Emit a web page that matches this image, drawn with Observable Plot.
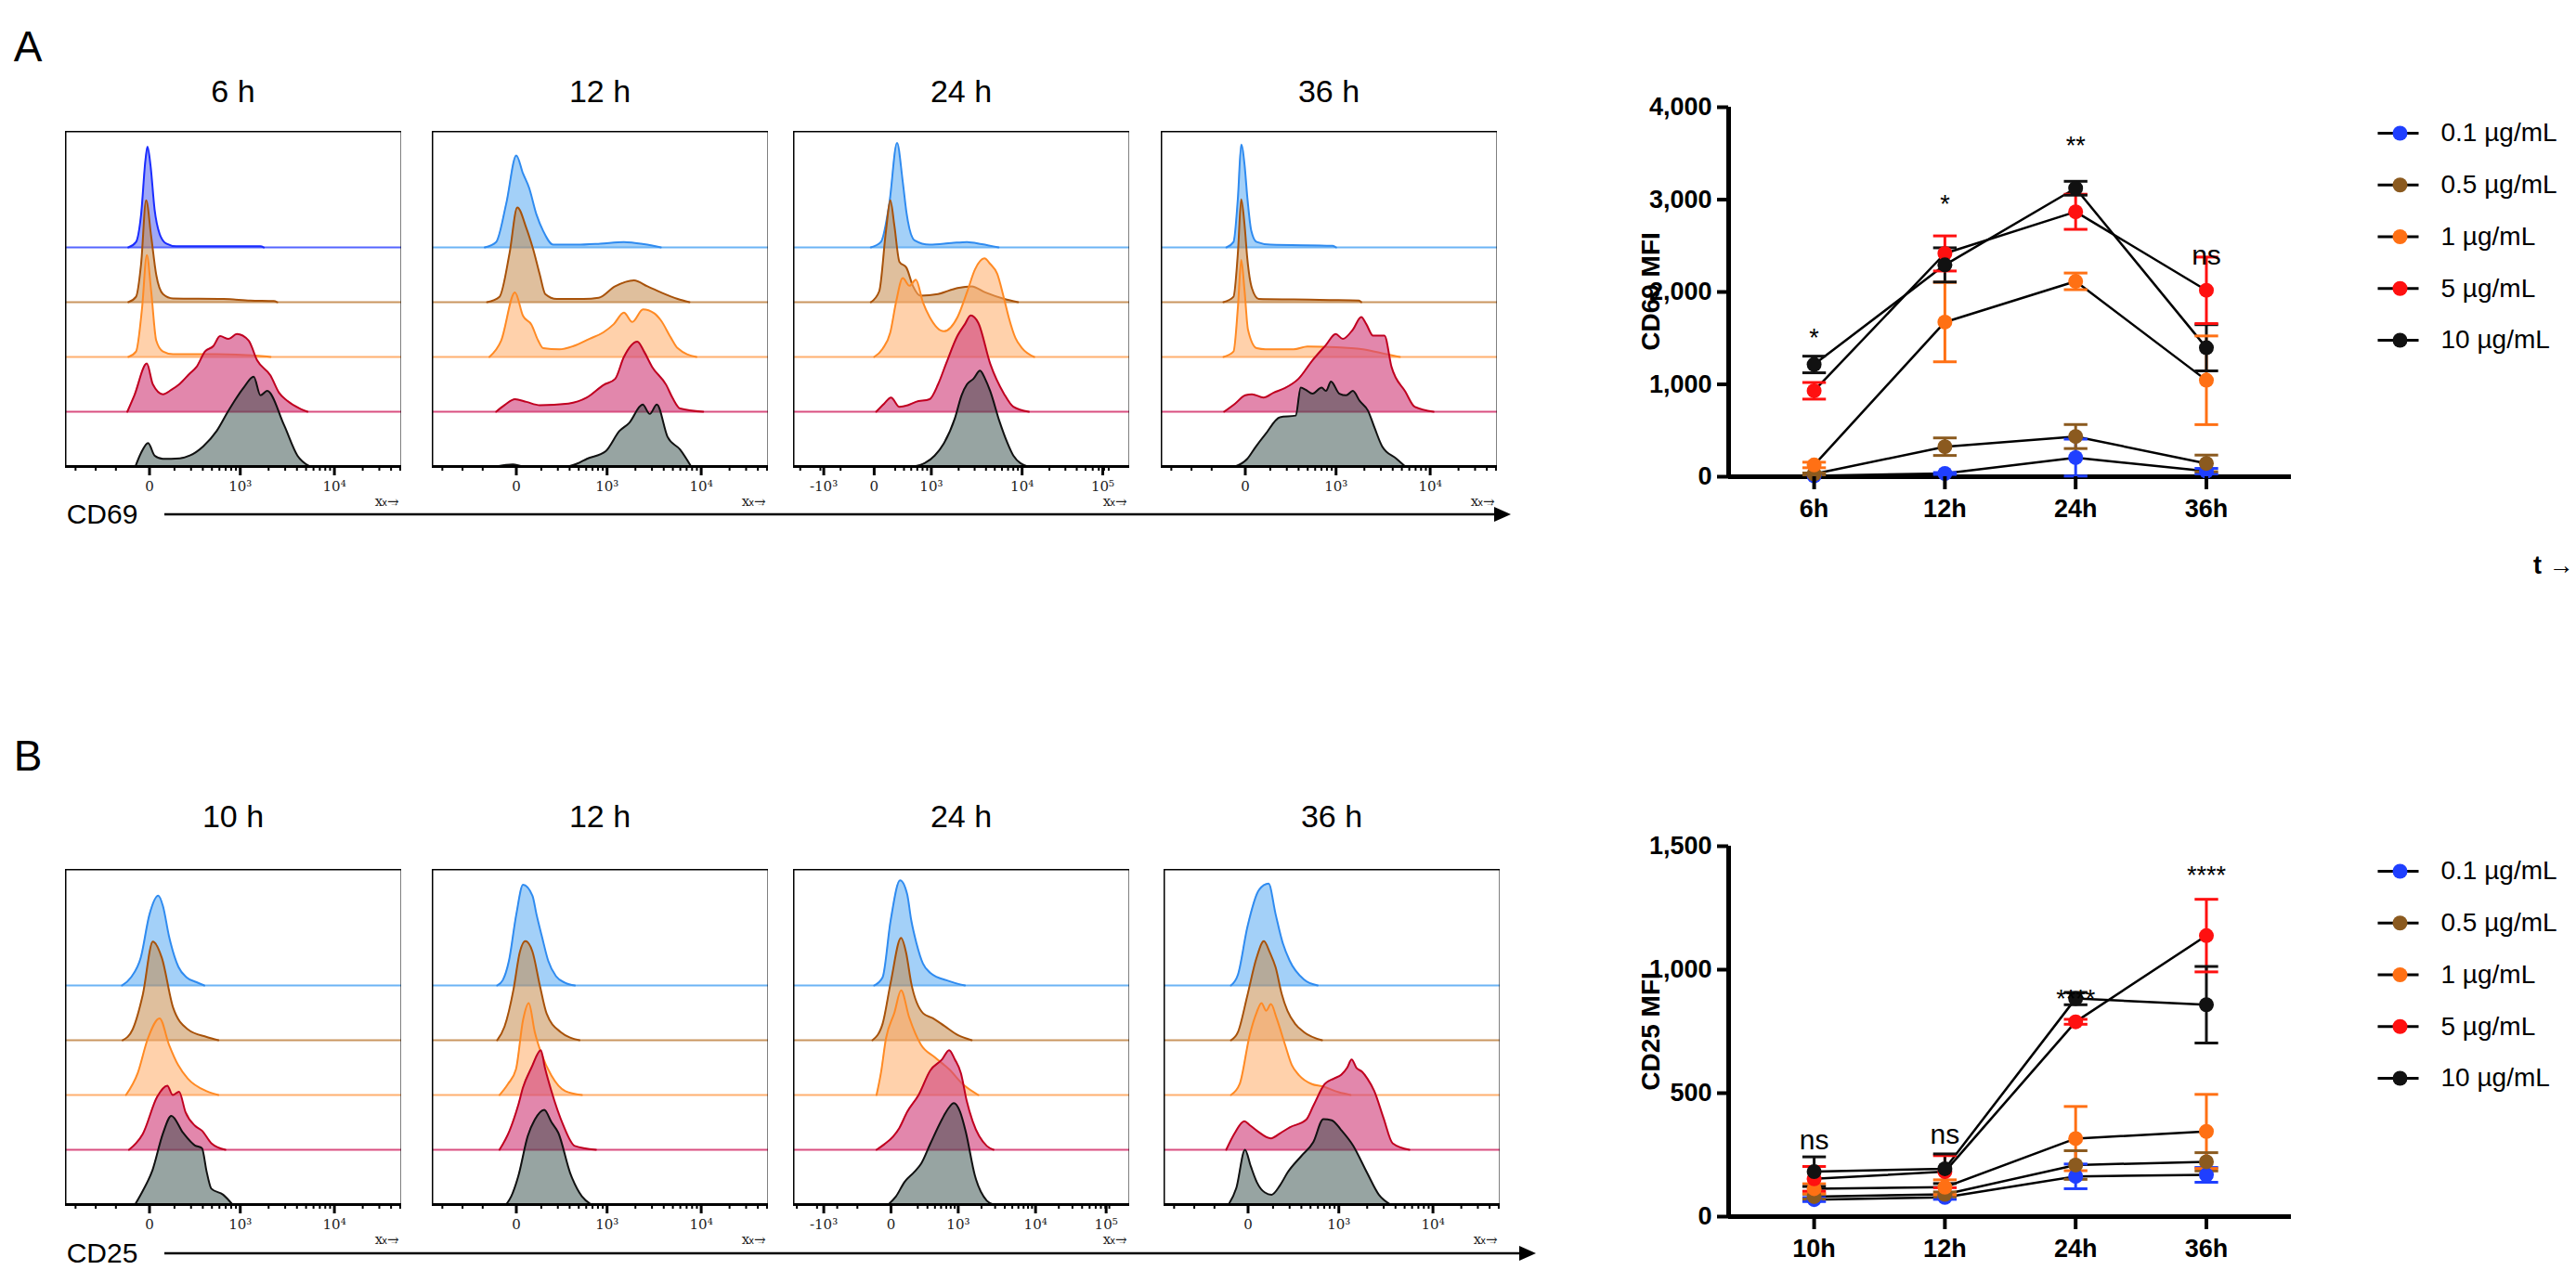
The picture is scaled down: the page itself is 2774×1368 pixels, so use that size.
<!DOCTYPE html>
<html><head><meta charset="utf-8">
<script src="https://cdn.jsdelivr.net/npm/d3@7"></script>
<script src="https://cdn.jsdelivr.net/npm/@observablehq/plot@0.6"></script>
<style>
body{margin:0;background:#fff;}
#root{position:relative;width:2774px;height:1368px;overflow:hidden;font-family:"Liberation Sans",Arial,sans-serif;}
.ttl{position:absolute;transform:translate(-50%,-50%);white-space:nowrap;}
</style></head><body><div id="root"></div>
<script>
// ---------- DATA ----------
const rowNames = ["0.1 µg/mL","0.5 µg/mL","1 µg/mL","5 µg/mL","10 µg/mL"];
const timesA = ["6 h","12 h","24 h","36 h"];
const timesB = ["10 h","12 h","24 h","36 h"];
const lineTimesA = ["6h","12h","24h","36h"];
const lineTimesB = ["10h","12h","24h","36h"];

// histogram knots: [x position in % of panel width, height in row units]
const histA_6h = [
 [[18.7,0],[21,0.1],[22.5,0.6],[23.8,1.6],[24.4,1.84],[25.3,1.5],[26.5,0.7],[28,0.25],[30,0.07],[33,0.02],[58,0.02],[59,0]],
 [[18.7,0],[21,0.1],[22.5,0.7],[24,1.86],[25.5,1.2],[27,0.5],[29,0.15],[32,0.07],[47,0.06],[55,0.03],[62,0.02],[63,0]],
 [[18.7,0],[21,0.1],[22.8,0.9],[24.2,1.86],[25.5,1.2],[27,0.3],[29,0.1],[32,0.05],[45,0.05],[60,0.01],[61,0]],
 [[18.4,0],[20.5,0.3],[24.2,0.88],[26,0.5],[29,0.32],[31.5,0.4],[34,0.51],[37,0.7],[39,0.82],[41.5,1.1],[44,1.2],[46,1.38],[48.5,1.33],[51,1.42],[54.5,1.3],[57,0.94],[61,0.66],[63.5,0.35],[66,0.2],[70,0.05],[72,0]],
 [[20.8,0],[22.5,0.25],[24.6,0.43],[26.5,0.2],[29,0.14],[34,0.15],[37,0.2],[41,0.37],[45,0.65],[48.5,1.02],[53,1.44],[56,1.64],[58,1.3],[60,1.38],[65,0.76],[69,0.2],[72.7,0]]
];
const histA_12h = [
 [[15.6,0],[19,0.1],[22,0.8],[25,1.68],[27,1.35],[28.8,1.09],[31,0.6],[33,0.3],[36,0.05],[43,0.05],[50,0.07],[57,0.1],[63,0.06],[68,0]],
 [[16.3,0],[20,0.1],[23,0.9],[25.3,1.73],[28,1.35],[30,0.97],[32,0.5],[33.6,0.15],[37,0.06],[45,0.06],[49.5,0.08],[54.4,0.29],[60,0.4],[64,0.29],[68,0.18],[73,0.06],[76.5,0]],
 [[17,0],[20.5,0.3],[24.6,1.18],[27,0.75],[29.5,0.59],[31.5,0.3],[33,0.16],[37.8,0.14],[42,0.2],[46.7,0.33],[50.9,0.45],[54,0.6],[57,0.81],[59.5,0.64],[62.7,0.87],[66,0.8],[68,0.67],[71,0.35],[73,0.16],[78.6,0]],
 [[19,0],[21.5,0.12],[24.6,0.23],[28,0.18],[32,0.12],[40.5,0.15],[46,0.26],[51,0.49],[54.4,0.6],[57,1.0],[61,1.28],[63,1.1],[65.4,0.82],[69.6,0.49],[71.5,0.25],[73.7,0.06],[80.6,0]],
 [[19,0],[24,0.04],[27,0],[40,0],[43,0.05],[46,0.14],[51.6,0.28],[55.7,0.65],[58.5,0.79],[62.6,1.13],[64.7,0.96],[66.8,1.13],[70,0.54],[73.7,0.31],[77,0]]
];
const histA_24h = [
 [[23,0],[26,0.1],[28.5,0.8],[30.8,1.91],[32.5,1.2],[33.6,0.64],[36,0.13],[40.5,0.05],[47,0.08],[51.6,0.1],[56,0.06],[61,0]],
 [[23,0],[25.5,0.2],[27.5,1.3],[28.8,1.86],[30,1.4],[31.5,0.74],[33.6,0.63],[35.5,0.3],[37.8,0.12],[43,0.15],[48.8,0.26],[53,0.29],[57,0.18],[62.7,0.06],[66.8,0]],
 [[24,0],[26.5,0.15],[28.8,0.45],[30.5,1.0],[32.5,1.44],[34.5,1.3],[36.4,1.41],[38.5,1.0],[40.5,0.73],[44.7,0.47],[48.8,0.73],[51.6,1.18],[54,1.6],[56.8,1.8],[58.5,1.7],[60.6,1.52],[62.5,1.1],[64,0.73],[66,0.35],[68,0.16],[71.6,0]],
 [[24.6,0],[27,0.15],[29,0.26],[31.5,0.09],[34,0.12],[36.4,0.18],[40.5,0.23],[43,0.5],[45.4,0.88],[48.8,1.39],[51,1.6],[52.7,1.76],[55,1.62],[58.5,0.88],[62.7,0.32],[65.4,0.09],[70,0]],
 [[35.7,0],[39,0.06],[42,0.2],[44.7,0.42],[48,0.88],[50,1.3],[51.6,1.5],[53.5,1.6],[55.5,1.75],[57,1.6],[58.5,1.38],[61.3,0.82],[63.5,0.45],[65.4,0.2],[69.6,0]]
];
const histA_36h = [
 [[19.4,0],[21.5,0.1],[22.8,0.9],[23.8,1.88],[24.8,1.5],[25.6,0.92],[26.8,0.3],[28.4,0.1],[32.5,0.05],[51,0.03],[52,0]],
 [[18.5,0],[21.5,0.1],[22.8,0.9],[23.8,1.88],[24.8,1.4],[25.6,0.8],[27,0.25],[29,0.06],[39.4,0.05],[50,0.04],[58.8,0.03],[59.5,0]],
 [[18.5,0],[21.5,0.1],[22.8,0.9],[23.8,1.77],[24.8,1.2],[25.8,0.5],[28.4,0.16],[31,0.14],[39.4,0.14],[43.5,0.19],[52,0.18],[60,0.14],[67,0.05],[71,0]],
 [[18.7,0],[22,0.15],[25,0.3],[27,0.32],[30.4,0.26],[33.5,0.35],[36.7,0.43],[40.8,0.6],[45,0.94],[49,1.22],[51.9,1.42],[54,1.33],[57,1.5],[59.5,1.73],[61,1.6],[63,1.39],[66.4,1.39],[68.5,0.82],[72.6,0.37],[75.4,0.09],[81,0]],
 [[22,0],[25.6,0.14],[28,0.35],[31,0.59],[35.3,0.9],[40,0.93],[41.5,1.44],[43,1.4],[45,1.33],[47.7,1.44],[49,1.38],[50.5,1.55],[53,1.33],[55,1.3],[57,1.38],[59,1.2],[61.5,1.02],[63.5,0.7],[65.7,0.37],[70,0.14],[72.6,0]]
];
const histB_10h = [
 [[16.8,0],[19.5,0.15],[22.4,0.51],[25,1.3],[27.6,1.64],[29,1.45],[30.8,0.9],[33.6,0.34],[36,0.15],[39,0.06],[41.3,0]],
 [[17,0],[20,0.2],[23,0.83],[26,1.8],[28.7,1.5],[32,0.6],[36.4,0.2],[42,0.06],[45.5,0]],
 [[18,0],[21.5,0.4],[24.5,1.03],[28,1.4],[30.8,0.92],[33.5,0.55],[36.4,0.3],[42,0.07],[45.5,0]],
 [[18.9,0],[21,0.12],[23,0.29],[27.3,0.97],[30.3,1.17],[31.9,1.0],[33.8,1.06],[35.7,0.69],[38.5,0.44],[40.6,0.35],[43.4,0.12],[47.6,0]],
 [[20.7,0],[23,0.25],[25.9,0.63],[29,1.3],[31.5,1.62],[35,1.31],[38.5,1.08],[40.6,1.03],[42,0.6],[43.4,0.29],[46.9,0.18],[49.7,0]]
];
const histB_12h = [
 [[19.3,0],[21,0.1],[22.8,0.45],[25,1.3],[27,1.84],[29.8,1.64],[31,1.3],[32.6,0.9],[34.5,0.45],[36.8,0.17],[39.5,0.05],[42.4,0]],
 [[19.3,0],[21.5,0.25],[24.2,0.94],[26,1.6],[27.7,1.81],[29.8,1.62],[32,1.0],[34,0.49],[38.2,0.15],[41,0.05],[43.8,0]],
 [[20,0],[22.5,0.2],[24.9,0.47],[27,1.37],[28.7,1.68],[30.5,1.15],[32.5,0.75],[35.4,0.36],[39.6,0.07],[44.5,0]],
 [[20,0],[23,0.35],[25.5,0.8],[27,1.14],[29.5,1.5],[32.3,1.82],[33.5,1.5],[35.4,1.08],[38.9,0.46],[42.4,0.07],[48.7,0]],
 [[22,0],[23.5,0.15],[25.6,0.52],[28.4,1.25],[30.5,1.55],[33.3,1.73],[35.5,1.5],[37.5,1.31],[41,0.58],[44.5,0.15],[47.3,0]]
];
const histB_24h = [
 [[24,0],[26.5,0.15],[28.9,1.19],[31.7,1.92],[33.8,1.67],[35,1.2],[36.5,0.79],[38.5,0.4],[40.7,0.23],[46.3,0.08],[51,0]],
 [[23.5,0],[26.5,0.3],[28.9,1.05],[32,1.87],[33.5,1.6],[35,1.05],[38.6,0.49],[41.5,0.4],[44.9,0.26],[49,0.09],[53,0]],
 [[24.7,0],[26,0.4],[27.5,1.03],[30,1.5],[32,1.91],[34.4,1.42],[37.9,0.92],[42,0.69],[46.3,0.47],[50.5,0.19],[55,0]],
 [[24.7,0],[27,0.1],[29.6,0.24],[31.5,0.4],[33.8,0.69],[37.2,1.0],[40.7,1.45],[44.2,1.65],[46.3,1.82],[48,1.65],[49.8,1.4],[51.5,0.9],[53.3,0.52],[57.5,0.07],[59.5,0]],
 [[28.2,0],[30.5,0.15],[33,0.41],[36,0.6],[38,0.75],[40.7,1.11],[44.2,1.56],[46,1.75],[47.7,1.85],[49.5,1.7],[51.2,1.34],[54,0.52],[57.5,0.07],[59.5,0]]
];
const histB_36h = [
 [[19.9,0],[22,0.2],[24.8,1.07],[28.3,1.75],[31.1,1.86],[33.2,1.3],[35.2,0.8],[37.4,0.45],[41.6,0.11],[45.7,0]],
 [[19.9,0],[22,0.15],[24.8,0.82],[27.5,1.5],[29.7,1.81],[31.5,1.6],[33.2,1.33],[35,0.85],[36.7,0.54],[39,0.3],[41.6,0.15],[47,0]],
 [[19.9,0],[22.5,0.2],[25.5,1.1],[27.5,1.5],[29,1.68],[30.4,1.54],[31.8,1.66],[33.5,1.4],[36,0.92],[38,0.55],[40.2,0.36],[44,0.2],[47,0.16],[52,0.05],[55.5,0]],
 [[18.5,0],[21,0.3],[23.9,0.52],[25.5,0.45],[27.6,0.35],[31.8,0.21],[34.5,0.3],[37.4,0.41],[42.3,0.55],[44.4,0.8],[47.8,1.2],[50.5,1.3],[52.7,1.37],[54.5,1.5],[55.8,1.65],[57.2,1.5],[59,1.42],[60.5,1.3],[62.5,1.08],[65.3,0.58],[68,0.12],[73,0]],
 [[19.2,0],[21.5,0.3],[24.1,1.0],[25.8,0.7],[27.6,0.41],[30,0.22],[32,0.18],[34.5,0.35],[36.7,0.58],[40.9,0.89],[44.4,1.14],[47.4,1.56],[49.9,1.54],[52.7,1.36],[56.2,1.08],[60.4,0.58],[63.9,0.18],[67.4,0]]
];

// axis tick labels of each histogram panel: [position %, label]
const ticks3 = [[25,"0"],[52,"10³"],[80,"10⁴"]];
const ticksA24 = [[9,"-10³"],[24,"0"],[41,"10³"],[68,"10⁴"],[92,"10⁵"]];
const ticksB24 = [[9,"-10³"],[29,"0"],[49,"10³"],[72,"10⁴"],[93,"10⁵"]];

// MFI line charts: rows = concentrations, columns = time points
const cd69Mean = [[10,35,207,60],[30,325,435,144],[127,1674,2115,1044],[930,2417,2868,2018],[1215,2293,3123,1396]];
const cd69Err  = [[0,10,200,30],[10,95,130,90],[30,430,90,480],[90,190,190,360],[90,185,75,250]];
const cd69Sig  = ["*","*","**","ns"];
const cd69SigY = [1500,2950,3580,2390];
const cd25Mean = [[69,78,163,169],[81,90,209,222],[113,119,316,345],[153,182,789,1138],[182,194,883,858]];
const cd25Err  = [[8,8,50,30],[10,10,58,37],[20,30,130,150],[50,65,10,147],[60,60,25,155]];
const cd25Sig  = ["ns","ns","****","****"];
const cd25SigY = [310,330,880,1380];

// ---------- STYLE ----------
const rowStyle = [
  {stroke:"#2f8bf0", fill:"#58a9f2", fo:0.55, base:"#6cb4f5"},
  {stroke:"#a8520a", fill:"#c58a4c", fo:0.55, base:"#c99660"},
  {stroke:"#ff8a24", fill:"#ffac66", fo:0.55, base:"#ffb070"},
  {stroke:"#c00020", fill:"#d2477f", fo:0.65, base:"#d94f80"},
  {stroke:"#111111", fill:"#2f4a45", fo:0.5, base:"#222"}
];
const deepBlue = {stroke:"#1a2cff", fill:"#5060f0", fo:0.55, base:"#5566ff"};
const dotColors = ["#1f3fff","#8b5a1f","#ff7014","#ff1010","#111111"];

const root = document.getElementById("root");
function place(el, left, top){ el.style.position="absolute"; el.style.left=left+"px"; el.style.top=top+"px"; root.appendChild(el); }
function Lbl(t,x,y,fs,extra){const d=document.createElement("div");d.className="ttl";d.textContent=t;d.style.left=x+"px";d.style.top=y+"px";d.style.fontSize=fs+"px";if(extra)Object.assign(d.style,extra);root.appendChild(d);}

const W = 362, H = 361, ROWS = 6.12;

function histPanel(curves, ticks, firstStyle){
  const marks = [];
  const n = curves.length;
  curves.forEach((pts, i) => {
    const st = (i===0 && firstStyle) ? firstStyle : rowStyle[i];
    const base = n-1-i;
    const data = pts.map(([x,h]) => ({x, y1:base, y2:base+h}));
    if (i < n-1) marks.push(Plot.ruleY([base], {stroke: st.base, strokeWidth:2}));
    marks.push(Plot.areaY(data, {x:"x", y1:"y1", y2:"y2", fill: st.fill, fillOpacity: st.fo, curve:"monotone-x"}));
    marks.push(Plot.lineY(data, {x:"x", y:"y2", stroke: st.stroke, strokeWidth:2, curve:"monotone-x"}));
  });
  const pos = new Map(ticks.map(([p,l])=>[l,p]));
  const p3 = pos.get("10³"), p4 = pos.get("10⁴"), d = p4 - p3, p0 = pos.get("0");
  const minor = [];
  for (let k=-1;k<=2;k++) for (let m=2;m<=9;m++){ const v=p3+d*(k+Math.log10(m)); if(v>p0+6 && v<100) minor.push(v); }
  for (let v=p0-10; v>0; v-=6) minor.push(v);
  marks.push(Plot.axisX(minor, {tickSize:5, tickFormat:()=>"", strokeWidth:2}));
  marks.push(Plot.axisX(ticks.map(t=>t[0]), {tickSize:10, strokeWidth:3, tickPadding:6,
    tickFormat: v => (ticks.find(t=>t[0]===v)||[0,""])[1], fontSize:15, fontFamily:"DejaVu Serif", fill:"#222"}));
  marks.push(Plot.ruleY([0], {stroke:"#000", strokeWidth:3}));
  marks.push(Plot.frame({stroke:"#000", strokeWidth:2}));
  return Plot.plot({width:W, height:H+45, marginTop:0, marginLeft:0, marginRight:0, marginBottom:45,
    x:{domain:[0,100], axis:null}, y:{domain:[0,ROWS], axis:null}, marks});
}

Lbl("A", 30, 50, 46);
Lbl("B", 30, 814, 46);

const colsA = [70,465,854,1250], colsB = [70,465,854,1253];
const histsA = [histA_6h, histA_12h, histA_24h, histA_36h];
const histsB = [histB_10h, histB_12h, histB_24h, histB_36h];
const tickA = [ticks3, ticks3, ticksA24, ticks3];
const tickB = [ticks3, ticks3, ticksB24, ticks3];
timesA.forEach((t,i)=>{
  Lbl(t, colsA[i]+W/2, 98, 34);
  place(histPanel(histsA[i], tickA[i], i===0?deepBlue:null), colsA[i], 141);
});
timesB.forEach((t,i)=>{
  Lbl(t, colsB[i]+W/2, 879, 34);
  place(histPanel(histsB[i], tickB[i], null), colsB[i], 936);
});

function arrow(y, x1, x2){
  const ns="http://www.w3.org/2000/svg";
  const s=document.createElementNS(ns,"svg"); s.setAttribute("width",x2-x1+10); s.setAttribute("height",30);
  s.innerHTML=`<line x1="0" y1="15" x2="${x2-x1-14}" y2="15" stroke="#000" stroke-width="2.5"/><path d="M${x2-x1-18},7 L${x2-x1},15 L${x2-x1-18},23 Z" fill="#000"/>`;
  place(s, x1, y-15);
}
Lbl("CD69", 110, 554, 30);
arrow(554, 177, 1627);
Lbl("CD25", 110, 1350, 30);
arrow(1350, 177, 1654);

function mfiChart(means, errs, sig, sigY, times, ymax, ystep, ylabel, top, yTop, yZero){
  const rows = [];
  means.forEach((r,ci)=> r.forEach((v,ti)=> rows.push({c:ci, t:ti, v, e:errs[ci][ti]})));
  const eb = rows.filter(d=>d.e>0);
  const h = 560;
  const sigs = sig.map((s,i)=>({s, t:i, y:sigY[i]}));
  const marks = [
    Plot.ruleY([0], {stroke:"#000", strokeWidth:5}),
    Plot.lineY(rows, {x:"t", y:"v", z:"c", stroke:"#000", strokeWidth:2.5}),
    Plot.ruleX(eb, {x:"t", y1:d=>Math.max(0,d.v-d.e), y2:d=>d.v+d.e, stroke:d=>dotColors[d.c], strokeWidth:3}),
    Plot.link(eb, {x1:d=>d.t-0.09, x2:d=>d.t+0.09, y1:d=>d.v+d.e, y2:d=>d.v+d.e, stroke:d=>dotColors[d.c], strokeWidth:3}),
    Plot.link(eb, {x1:d=>d.t-0.09, x2:d=>d.t+0.09, y1:d=>Math.max(0,d.v-d.e), y2:d=>Math.max(0,d.v-d.e), stroke:d=>dotColors[d.c], strokeWidth:3}),
    Plot.dot(rows, {x:"t", y:"v", r:8, fill:d=>dotColors[d.c], stroke:"none"}),
    Plot.axisX([0,1,2,3], {tickSize:14, strokeWidth:4, tickPadding:10, tickFormat:i=>times[i], fontSize:27, fontWeight:"bold", fill:"#000"}),
    Plot.axisY(d3.range(0, ymax+1, ystep), {tickSize:12, strokeWidth:4, tickPadding:6, fontSize:27, fontWeight:"bold", fill:"#000"}),
    Plot.ruleX([-0.654], {y1:0, y2:ymax, stroke:"#000", strokeWidth:5}),
    Plot.text(sigs, {x:"t", y:"y", text:"s", fontSize:d=>d.s==="ns"?30:27, fill:"#000"})
  ];
  const p = Plot.plot({width:1074, height:h, marginTop:yTop-top, marginBottom:h-(yZero-top), marginLeft:161, marginRight:307,
    x:{domain:[-0.654,3.65], axis:null}, y:{domain:[0,ymax], axis:null},
    style:{fontFamily:"Liberation Sans, Arial, sans-serif", overflow:"visible"}, marks});
  place(p, 1700, top);
  Lbl(ylabel, 1778, (yTop+yZero)/2, 28, {fontWeight:"bold", transform:"translate(-50%,-50%) rotate(-90deg)"});
}
mfiChart(cd69Mean, cd69Err, cd69Sig, cd69SigY, lineTimesA, 4000, 1000, "CD69 MFI", 60, 115, 513);
mfiChart(cd25Mean, cd25Err, cd25Sig, cd25SigY, lineTimesB, 1500, 500, "CD25 MFI", 860, 911, 1310);

function legend(top){
  const items = rowNames.map((n,i)=>({n,i}));
  const p = Plot.plot({width:224, height:300, margin:0, x:{domain:[0,224],range:[0,224],axis:null},
    y:{domain:[0,4], range:[30,253], axis:null},
    marks:[
      Plot.link(items, {x1:10, x2:54, y1:"i", y2:"i", stroke:"#000", strokeWidth:3}),
      Plot.dot(items, {x:34, y:"i", r:8, fill:d=>dotColors[d.i]}),
      Plot.text(items, {x:78, y:"i", text:"n", textAnchor:"start", fontSize:28, fill:"#000", fontFamily:"Liberation Sans, Arial, sans-serif"})
    ]});
  place(p, 2550, top);
}
legend(113);
legend(908);
</script>
</body></html>
